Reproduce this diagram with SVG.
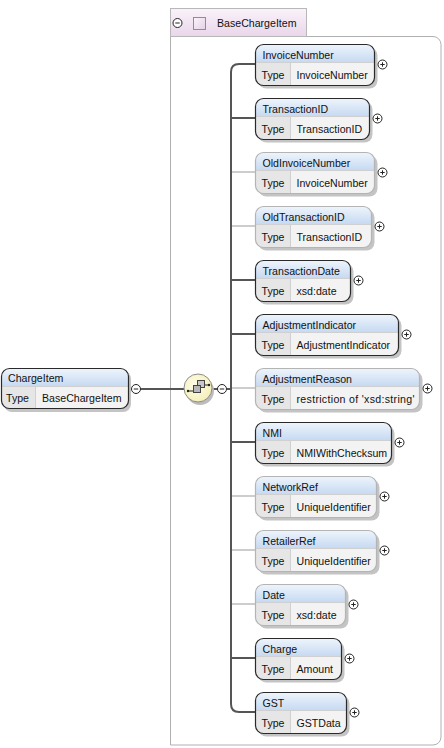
<svg xmlns="http://www.w3.org/2000/svg" xmlns:xlink="http://www.w3.org/1999/xlink" width="444" height="748" viewBox="0 0 444 748">
<defs>
<linearGradient id="hdr" x1="0" y1="0" x2="0" y2="1"><stop offset="0" stop-color="#eef4fc"/><stop offset="1" stop-color="#c6d9f2"/></linearGradient>
<linearGradient id="tab" x1="0" y1="0" x2="0" y2="1"><stop offset="0" stop-color="#faf2fa"/><stop offset="1" stop-color="#ead6ea"/></linearGradient>
<linearGradient id="sq" x1="0" y1="0" x2="1" y2="1"><stop offset="0" stop-color="#fbf4fb"/><stop offset="1" stop-color="#e6cfe6"/></linearGradient>
<radialGradient id="seq" cx="0.4" cy="0.4" r="0.7"><stop offset="0" stop-color="#fffde8"/><stop offset="1" stop-color="#f3eeb4"/></radialGradient>
<g id="plus"><circle r="4.5" fill="#fff" stroke="#222" stroke-width="1"/><path d="M-2.2 0H2.2M0 -2.2V2.2" stroke="#222" stroke-width="1"/></g>
<g id="minus"><circle r="4.5" fill="#fff" stroke="#222" stroke-width="1"/><path d="M-2.2 0H2.2" stroke="#222" stroke-width="1"/></g>
</defs>
<style>
text{font-family:"Liberation Sans",Arial,sans-serif;font-size:10.6px;fill:#111}
.sh{fill:#c4c4c4}
.hd{fill:url(#hdr)}
.tc{fill:#e6e6e6}
.vc{fill:#f3f3f3}
.req{fill:none;stroke:#2a2a2a;stroke-width:1.2}
.opt{fill:none;stroke:#b4b4b4;stroke-width:1.2}
.sep{stroke:#d0d0d0;stroke-width:1}
.cr{fill:none;stroke:#555;stroke-width:2}
.co{fill:none;stroke:#bdbdbd;stroke-width:1.5}
</style>

<g id="container">
<path d="M170.5 36.5H433a8 8 0 0 1 8 8V737a8 8 0 0 1-8 8H170.5Z" fill="#fff" stroke="#b0b0b0" stroke-width="1"/>
<rect x="170.5" y="8.5" width="136" height="28" fill="url(#tab)" stroke="#b8b8b8" stroke-width="1"/>
<use xlink:href="#minus" x="177.5" y="23"/>
<rect x="193.5" y="17.5" width="12" height="12" fill="url(#sq)" stroke="#a87ab0" stroke-width="1"/>
<text x="217" y="27">BaseChargeItem</text>
</g>

<g id="connectors">
<path class="cr" d="M141 389H185"/>
<path class="cr" d="M212 389H217"/>
<path class="cr" d="M227 389H231"/>
<path class="cr" d="M255 64H239Q231 64 231 72V704Q231 712 239 712H255"/>
<path class="cr" d="M231 118H255"/>
<path class="co" d="M232 172H255"/>
<path class="co" d="M232 226H255"/>
<path class="cr" d="M231 280H255"/>
<path class="cr" d="M231 334H255"/>
<path class="co" d="M232 388H255"/>
<path class="cr" d="M231 442H255"/>
<path class="co" d="M232 496H255"/>
<path class="co" d="M232 550H255"/>
<path class="co" d="M232 604H255"/>
<path class="cr" d="M231 658H255"/>
<use xlink:href="#minus" x="136" y="389"/>
<use xlink:href="#minus" x="222" y="389"/>
</g>

<g id="sequence">
<ellipse cx="200" cy="391" rx="14" ry="14" fill="#bdbdbd"/>
<ellipse cx="198" cy="388" rx="14" ry="14" fill="url(#seq)" stroke="#8c8c8c" stroke-width="1"/>
<path d="M188 391H193M205 385H209" stroke="#222" stroke-width="1"/>
<circle cx="188" cy="391" r="1.2" fill="#222"/>
<circle cx="209" cy="385" r="1.2" fill="#222"/>
<rect x="197.5" y="380.5" width="7" height="7" fill="#c8c8c8" stroke="#444" stroke-width="1"/>
<rect x="193.5" y="385.5" width="7" height="7" fill="#b8b8b8" stroke="#444" stroke-width="1"/>
</g>

<g id="ChargeItem">
<rect class="sh" x="4" y="371" width="127" height="41" rx="8"/>
<rect class="vc" x="1.5" y="368.5" width="127" height="40" rx="8"/>
<path class="hd" d="M1.5 386.5V376.5a8 8 0 0 1 8-8h111a8 8 0 0 1 8 8v10Z"/>
<path class="tc" d="M1.5 386.5H35.5V408.5H9.5a8 8 0 0 1-8-8Z"/>
<path class="sep" d="M1.5 386.5H128.5M35.5 386.5V408.5"/>
<rect class="req" x="1.5" y="368.5" width="127" height="40" rx="8"/>
<text x="8" y="382">ChargeItem</text>
<text x="6" y="402">Type</text>
<text x="42" y="402">BaseChargeItem</text>
</g>

<g id="InvoiceNumber" transform="translate(255.5 44.5)">
<rect class="sh" x="3" y="3" width="119" height="41" rx="8"/>
<rect class="vc" width="119" height="41" rx="8"/>
<path class="hd" d="M0 18V8a8 8 0 0 1 8-8H111a8 8 0 0 1 8 8V18Z"/>
<path class="tc" d="M0 18H35V41H8a8 8 0 0 1-8-8Z"/>
<path class="sep" d="M0 18H119M35 18V41"/>
<rect class="req" width="119" height="41" rx="8"/>
<text x="7" y="14">InvoiceNumber</text><text x="6" y="34">Type</text><text x="41" y="34">InvoiceNumber</text>
<use xlink:href="#plus" x="127" y="20"/>
</g>

<g id="TransactionID" transform="translate(255.5 98.5)">
<rect class="sh" x="3" y="3" width="114" height="41" rx="8"/>
<rect class="vc" width="114" height="41" rx="8"/>
<path class="hd" d="M0 18V8a8 8 0 0 1 8-8H106a8 8 0 0 1 8 8V18Z"/>
<path class="tc" d="M0 18H35V41H8a8 8 0 0 1-8-8Z"/>
<path class="sep" d="M0 18H114M35 18V41"/>
<rect class="req" width="114" height="41" rx="8"/>
<text x="7" y="14">TransactionID</text><text x="6" y="34">Type</text><text x="41" y="34">TransactionID</text>
<use xlink:href="#plus" x="122" y="20"/>
</g>

<g id="OldInvoiceNumber" transform="translate(255.5 152.5)">
<rect class="sh" x="3" y="3" width="119" height="41" rx="8"/>
<rect class="vc" width="119" height="41" rx="8"/>
<path class="hd" d="M0 18V8a8 8 0 0 1 8-8H111a8 8 0 0 1 8 8V18Z"/>
<path class="tc" d="M0 18H35V41H8a8 8 0 0 1-8-8Z"/>
<path class="sep" d="M0 18H119M35 18V41"/>
<rect class="opt" width="119" height="41" rx="8"/>
<text x="7" y="14">OldInvoiceNumber</text><text x="6" y="34">Type</text><text x="41" y="34">InvoiceNumber</text>
<use xlink:href="#plus" x="127" y="20"/>
</g>

<g id="OldTransactionID" transform="translate(255.5 206.5)">
<rect class="sh" x="3" y="3" width="116" height="41" rx="8"/>
<rect class="vc" width="116" height="41" rx="8"/>
<path class="hd" d="M0 18V8a8 8 0 0 1 8-8H108a8 8 0 0 1 8 8V18Z"/>
<path class="tc" d="M0 18H35V41H8a8 8 0 0 1-8-8Z"/>
<path class="sep" d="M0 18H116M35 18V41"/>
<rect class="opt" width="116" height="41" rx="8"/>
<text x="7" y="14">OldTransactionID</text><text x="6" y="34">Type</text><text x="41" y="34">TransactionID</text>
<use xlink:href="#plus" x="124" y="20"/>
</g>

<g id="TransactionDate" transform="translate(255.5 260.5)">
<rect class="sh" x="3" y="3" width="95" height="41" rx="8"/>
<rect class="vc" width="95" height="41" rx="8"/>
<path class="hd" d="M0 18V8a8 8 0 0 1 8-8H87a8 8 0 0 1 8 8V18Z"/>
<path class="tc" d="M0 18H35V41H8a8 8 0 0 1-8-8Z"/>
<path class="sep" d="M0 18H95M35 18V41"/>
<rect class="req" width="95" height="41" rx="8"/>
<text x="7" y="14">TransactionDate</text><text x="6" y="34">Type</text><text x="41" y="34">xsd:date</text>
<use xlink:href="#plus" x="103" y="20"/>
</g>

<g id="AdjustmentIndicator" transform="translate(255.5 314.5)">
<rect class="sh" x="3" y="3" width="143" height="41" rx="8"/>
<rect class="vc" width="143" height="41" rx="8"/>
<path class="hd" d="M0 18V8a8 8 0 0 1 8-8H135a8 8 0 0 1 8 8V18Z"/>
<path class="tc" d="M0 18H35V41H8a8 8 0 0 1-8-8Z"/>
<path class="sep" d="M0 18H143M35 18V41"/>
<rect class="req" width="143" height="41" rx="8"/>
<text x="7" y="14">AdjustmentIndicator</text><text x="6" y="34">Type</text><text x="41" y="34">AdjustmentIndicator</text>
<use xlink:href="#plus" x="151" y="20"/>
</g>

<g id="AdjustmentReason" transform="translate(255.5 368.5)">
<rect class="sh" x="3" y="3" width="164" height="41" rx="8"/>
<rect class="vc" width="164" height="41" rx="8"/>
<path class="hd" d="M0 18V8a8 8 0 0 1 8-8H156a8 8 0 0 1 8 8V18Z"/>
<path class="tc" d="M0 18H35V41H8a8 8 0 0 1-8-8Z"/>
<path class="sep" d="M0 18H164M35 18V41"/>
<rect class="opt" width="164" height="41" rx="8"/>
<text x="7" y="14">AdjustmentReason</text><text x="6" y="34">Type</text><text x="41" y="34" textLength="118" lengthAdjust="spacing">restriction of 'xsd:string'</text>
<use xlink:href="#plus" x="172" y="20"/>
</g>

<g id="NMI" transform="translate(255.5 422.5)">
<rect class="sh" x="3" y="3" width="136" height="41" rx="8"/>
<rect class="vc" width="136" height="41" rx="8"/>
<path class="hd" d="M0 18V8a8 8 0 0 1 8-8H128a8 8 0 0 1 8 8V18Z"/>
<path class="tc" d="M0 18H35V41H8a8 8 0 0 1-8-8Z"/>
<path class="sep" d="M0 18H136M35 18V41"/>
<rect class="req" width="136" height="41" rx="8"/>
<text x="7" y="14">NMI</text><text x="6" y="34">Type</text><text x="41" y="34">NMIWithChecksum</text>
<use xlink:href="#plus" x="144" y="20"/>
</g>

<g id="NetworkRef" transform="translate(255.5 476.5)">
<rect class="sh" x="3" y="3" width="121" height="41" rx="8"/>
<rect class="vc" width="121" height="41" rx="8"/>
<path class="hd" d="M0 18V8a8 8 0 0 1 8-8H113a8 8 0 0 1 8 8V18Z"/>
<path class="tc" d="M0 18H35V41H8a8 8 0 0 1-8-8Z"/>
<path class="sep" d="M0 18H121M35 18V41"/>
<rect class="opt" width="121" height="41" rx="8"/>
<text x="7" y="14">NetworkRef</text><text x="6" y="34">Type</text><text x="41" y="34">UniqueIdentifier</text>
<use xlink:href="#plus" x="129" y="20"/>
</g>

<g id="RetailerRef" transform="translate(255.5 530.5)">
<rect class="sh" x="3" y="3" width="121" height="41" rx="8"/>
<rect class="vc" width="121" height="41" rx="8"/>
<path class="hd" d="M0 18V8a8 8 0 0 1 8-8H113a8 8 0 0 1 8 8V18Z"/>
<path class="tc" d="M0 18H35V41H8a8 8 0 0 1-8-8Z"/>
<path class="sep" d="M0 18H121M35 18V41"/>
<rect class="opt" width="121" height="41" rx="8"/>
<text x="7" y="14">RetailerRef</text><text x="6" y="34">Type</text><text x="41" y="34">UniqueIdentifier</text>
<use xlink:href="#plus" x="129" y="20"/>
</g>

<g id="Date" transform="translate(255.5 584.5)">
<rect class="sh" x="3" y="3" width="90" height="41" rx="8"/>
<rect class="vc" width="90" height="41" rx="8"/>
<path class="hd" d="M0 18V8a8 8 0 0 1 8-8H82a8 8 0 0 1 8 8V18Z"/>
<path class="tc" d="M0 18H35V41H8a8 8 0 0 1-8-8Z"/>
<path class="sep" d="M0 18H90M35 18V41"/>
<rect class="opt" width="90" height="41" rx="8"/>
<text x="7" y="14">Date</text><text x="6" y="34">Type</text><text x="41" y="34">xsd:date</text>
<use xlink:href="#plus" x="98" y="20"/>
</g>

<g id="Charge" transform="translate(255.5 638.5)">
<rect class="sh" x="3" y="3" width="86" height="41" rx="8"/>
<rect class="vc" width="86" height="41" rx="8"/>
<path class="hd" d="M0 18V8a8 8 0 0 1 8-8H78a8 8 0 0 1 8 8V18Z"/>
<path class="tc" d="M0 18H35V41H8a8 8 0 0 1-8-8Z"/>
<path class="sep" d="M0 18H86M35 18V41"/>
<rect class="req" width="86" height="41" rx="8"/>
<text x="7" y="14">Charge</text><text x="6" y="34">Type</text><text x="41" y="34">Amount</text>
<use xlink:href="#plus" x="94" y="20"/>
</g>

<g id="GST" transform="translate(255.5 692.5)">
<rect class="sh" x="3" y="3" width="91" height="41" rx="8"/>
<rect class="vc" width="91" height="41" rx="8"/>
<path class="hd" d="M0 18V8a8 8 0 0 1 8-8H83a8 8 0 0 1 8 8V18Z"/>
<path class="tc" d="M0 18H35V41H8a8 8 0 0 1-8-8Z"/>
<path class="sep" d="M0 18H91M35 18V41"/>
<rect class="req" width="91" height="41" rx="8"/>
<text x="7" y="14">GST</text><text x="6" y="34">Type</text><text x="41" y="34">GSTData</text>
<use xlink:href="#plus" x="99" y="20"/>
</g>
</svg>
